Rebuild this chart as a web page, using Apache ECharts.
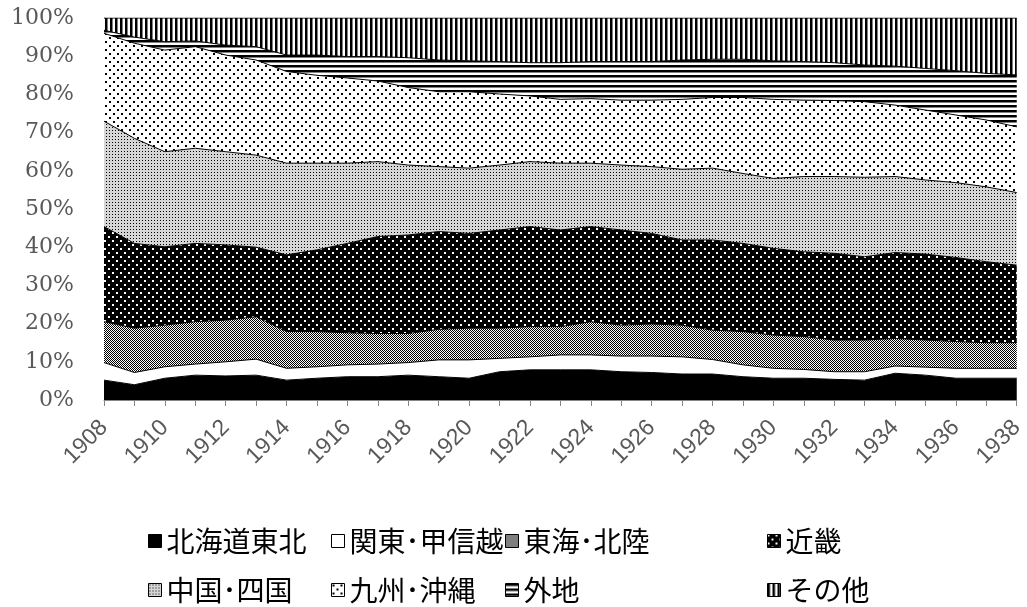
<!DOCTYPE html>
<html>
<head>
<meta charset="utf-8">
<script src="https://cdn.jsdelivr.net/npm/echarts@6/dist/echarts.min.js"></script>
<style>
  html, body { margin: 0; padding: 0; background: #fff; }
  #chart { width: 1027px; height: 607px; }
</style>
</head>
<body>
<div id="chart"></div>
<script>
// Share of each region, % (stacked to 100)
const years = ['1908','1909','1910','1911','1912','1913','1914','1915','1916','1917',
  '1918','1919','1920','1921','1922','1923','1924','1925','1926','1927',
  '1928','1929','1930','1931','1932','1933','1934','1935','1936','1937','1938'];

const hokkaidoTohoku = [5.2,4.0,5.7,6.5,6.3,6.5,5.2,5.7,6.1,6.1,6.5,6.1,5.7,7.4,7.9,7.9,7.9,7.4,7.2,6.8,6.8,6.1,5.7,5.7,5.4,5.2,7.0,6.5,5.7,5.7,5.7];
const kantoKoshinetsu = [4.6,3.2,3.0,2.9,3.7,4.2,3.1,3.0,3.1,3.3,3.3,4.4,4.8,3.5,3.4,3.9,3.9,4.1,4.3,4.5,3.8,3.1,2.6,2.3,2.0,2.2,1.9,2.1,2.6,2.6,2.6];
const tokaiHokuriku = [10.7,11.6,10.9,11.1,10.9,11.1,9.6,9.2,8.4,8.0,7.6,8.0,8.3,7.9,7.9,7.4,8.7,8.1,8.4,8.3,7.7,8.7,8.7,8.6,8.3,8.3,7.2,7.1,7.0,6.7,6.7];
const kinki = [24.9,22.2,20.5,20.5,19.7,18.2,20.1,21.4,23.4,25.4,25.8,25.6,24.8,25.7,26.2,25.3,24.9,24.9,23.7,22.3,23.6,23.1,22.7,22.2,22.7,21.8,22.5,22.5,22.0,21.2,20.3];
const chugokuShikoku = [27.6,27.5,24.9,24.9,24.4,24.1,24.0,22.7,21.0,19.6,18.3,17.0,17.1,17.0,17.0,17.5,16.6,17.0,17.5,18.5,18.8,18.3,18.3,19.7,20.1,20.8,19.9,19.4,19.6,19.6,19.0];
const kyushuOkinawa = [23.0,24.9,26.6,26.6,25.3,24.9,24.0,23.0,22.3,21.1,20.3,19.6,20.0,18.6,17.2,16.7,16.9,17.0,17.4,18.3,18.5,19.9,20.7,20.0,19.9,19.8,18.7,18.3,17.7,17.5,17.2];
const gaichi = [0.8,1.6,2.2,1.5,2.6,3.5,4.3,5.3,5.6,6.4,7.8,8.3,8.1,8.5,8.7,9.6,9.7,10.1,10.1,10.3,10.0,10.0,10.1,10.1,9.9,9.6,10.2,10.9,11.6,12.2,13.6];
const sonota = [3.2,5.0,6.2,6.0,7.1,7.5,9.7,9.7,10.1,10.1,10.4,11.0,11.2,11.4,11.7,11.7,11.4,11.4,11.4,11.0,10.8,10.8,11.2,11.4,11.7,12.3,12.6,13.2,13.8,14.5,14.9];

const seriesNames = ['北海道東北','関東･甲信越','東海･北陸','近畿','中国･四国','九州･沖縄','外地','その他'];
const seriesData = [hokkaidoTohoku, kantoKoshinetsu, tokaiHokuriku, kinki, chugokuShikoku, kyushuOkinawa, gaichi, sonota];
const yTicks = [0, 100, 10];

// Monochrome fill patterns drawn on small canvases
function tile(w, h, bg, draw) {
  const c = document.createElement('canvas');
  c.width = w; c.height = h;
  const g = c.getContext('2d');
  g.fillStyle = bg; g.fillRect(0, 0, w, h);
  draw(g);
  return { image: c, repeat: 'repeat' };
}
function px(g, color, rects) {
  g.fillStyle = color;
  rects.forEach(r => g.fillRect(r[0], r[1], r[2], r[3]));
}
const fills = [
  '#000000',
  '#ffffff',
  tile(2, 2, '#ffffff', g => px(g, '#000', [[0,0,1,1],[1,1,1,1]])),
  tile(8, 8, '#000000', g => px(g, '#fff', [[0,0,2,2],[4,4,2,2]])),
  tile(3, 3, '#d6d6d6', g => px(g, '#000', [[1,1,1,1]])),
  tile(8, 8, '#ffffff', g => px(g, '#000', [[1,1,2,2],[5,5,2,2]])),
  tile(1, 5, '#ffffff', g => { px(g, '#000', [[0,0,1,2]]); px(g, '#808080', [[0,2,1,1]]); }),
  tile(5, 1, '#ffffff', g => { px(g, '#000', [[0,0,2,1]]); px(g, '#808080', [[2,0,1,1]]); })
];

const legendSlots = [
  [148, 525], [331, 525], [505, 525], [767, 525],
  [148, 574], [331, 574], [505, 574], [767, 574]
];

const chart = echarts.init(document.getElementById('chart'), null, { renderer: 'canvas' });

chart.setOption({
  animation: false,
  backgroundColor: '#ffffff',
  grid: { left: 104, right: 9, top: 18, bottom: 207 },
  xAxis: {
    type: 'category',
    data: years,
    boundaryGap: false,
    axisLine: { lineStyle: { color: '#868686', width: 1 } },
    axisTick: { show: true, interval: 0, length: 6, lineStyle: { color: '#868686' } },
    axisLabel: {
      interval: 1, rotate: 45, margin: 24,
      color: '#595959', fontFamily: 'Liberation Sans', fontSize: 23
    },
    splitLine: { show: false }
  },
  yAxis: {
    type: 'value',
    min: yTicks[0], max: yTicks[1], interval: yTicks[2],
    axisLine: { show: true, lineStyle: { color: '#868686' } },
    axisTick: { show: false },
    splitLine: { show: false },
    axisLabel: {
      formatter: '{value}%', margin: 30,
      color: '#595959', fontFamily: 'DejaVu Serif', fontSize: 22
    }
  },
  legend: seriesNames.map((name, i) => ({
    left: legendSlots[i][0], top: legendSlots[i][1],
    padding: 0,
    itemWidth: 13, itemHeight: 13,
    itemGap: 0,
    textStyle: { fontFamily: 'Noto Sans CJK JP', fontSize: 28, color: '#000', lineHeight: 32 },
    data: [{
      name: name,
      icon: 'rect',
      itemStyle: { color: fills[i], borderColor: '#000', borderWidth: 1 }
    }]
  })),
  series: seriesNames.map((name, i) => ({
    name: name,
    type: 'line',
    stack: 'total',
    data: seriesData[i],
    showSymbol: false,
    symbol: 'none',
    smooth: false,
    lineStyle: { color: '#000', width: 1 },
    itemStyle: { color: fills[i], borderColor: '#000' },
    areaStyle: { color: fills[i], opacity: 1 }
  }))
});
</script>
</body>
</html>
